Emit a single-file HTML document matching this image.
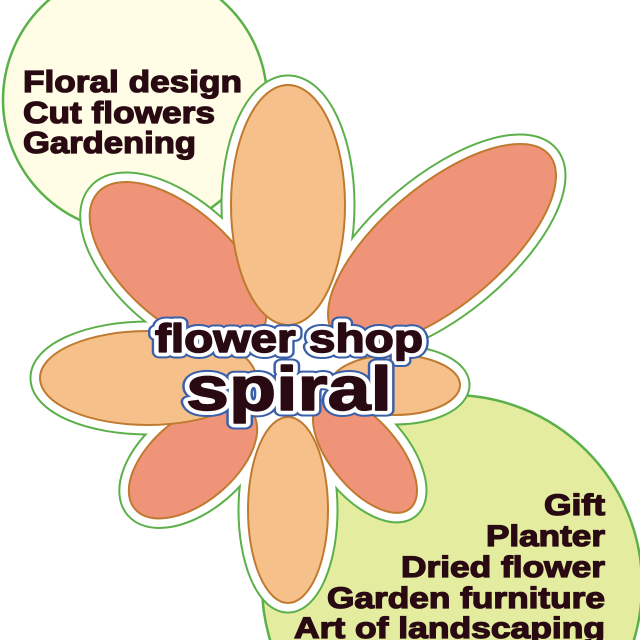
<!DOCTYPE html>
<html><head><meta charset="utf-8"><style>
html,body{margin:0;padding:0;background:#fff;overflow:hidden;}
svg{display:block;}
text{font-family:"Liberation Sans",Arial,sans-serif;font-weight:bold;fill:#2a0a12;}
</style></head><body>
<svg width="640" height="640" viewBox="0 0 640 640" xmlns="http://www.w3.org/2000/svg">
<circle cx="135" cy="100" r="132" fill="#fffde6" stroke="#5cb04a" stroke-width="2.5"/>
<circle cx="452" cy="585" r="190" fill="#e4eca0" stroke="#5cb04a" stroke-width="2.5"/>
<g fill="#fff" stroke="#5cb04a" stroke-width="21">
<ellipse cx="288" cy="205" rx="57" ry="120"/>
<ellipse cx="288" cy="510" rx="40" ry="93"/>
<ellipse cx="148" cy="378" rx="108" ry="47"/>
<ellipse cx="395" cy="385" rx="65" ry="30"/>
<ellipse cx="178" cy="265" rx="108" ry="55" transform="rotate(42 178 265)"/>
<ellipse cx="442" cy="245" rx="140" ry="60" transform="rotate(-40 442 245)"/>
<ellipse cx="193" cy="460" rx="76" ry="42" transform="rotate(-40 193 460)"/>
<ellipse cx="365" cy="455" rx="70" ry="34" transform="rotate(50 365 455)"/>
</g>
<g fill="#fff" stroke="#fff" stroke-width="17">
<ellipse cx="288" cy="205" rx="57" ry="120"/>
<ellipse cx="288" cy="510" rx="40" ry="93"/>
<ellipse cx="148" cy="378" rx="108" ry="47"/>
<ellipse cx="395" cy="385" rx="65" ry="30"/>
<ellipse cx="178" cy="265" rx="108" ry="55" transform="rotate(42 178 265)"/>
<ellipse cx="442" cy="245" rx="140" ry="60" transform="rotate(-40 442 245)"/>
<ellipse cx="193" cy="460" rx="76" ry="42" transform="rotate(-40 193 460)"/>
<ellipse cx="365" cy="455" rx="70" ry="34" transform="rotate(50 365 455)"/>
<rect x="235" y="315" width="110" height="105"/>
</g>
<g stroke="#c07a30" stroke-width="2">
<ellipse cx="178" cy="265" rx="108" ry="55" transform="rotate(42 178 265)" fill="#ef9478"/>
<ellipse cx="442" cy="245" rx="140" ry="60" transform="rotate(-40 442 245)" fill="#ef9478"/>
<ellipse cx="193" cy="460" rx="76" ry="42" transform="rotate(-40 193 460)" fill="#ef9478"/>
<ellipse cx="365" cy="455" rx="70" ry="34" transform="rotate(50 365 455)" fill="#ef9478"/>
<ellipse cx="288" cy="205" rx="57" ry="120" fill="#f6c08a"/>
<ellipse cx="288" cy="510" rx="40" ry="93" fill="#f6c08a"/>
<ellipse cx="148" cy="378" rx="108" ry="47" fill="#f6c08a"/>
<ellipse cx="395" cy="385" rx="65" ry="30" fill="#f6c08a"/>
</g>
<g font-size="31" stroke="#2a0a12" stroke-width="1.3" lengthAdjust="spacingAndGlyphs">
<text x="23" y="92" textLength="219" lengthAdjust="spacingAndGlyphs">Floral design</text>
<text x="23" y="123" textLength="192" lengthAdjust="spacingAndGlyphs">Cut flowers</text>
<text x="23" y="153" textLength="173" lengthAdjust="spacingAndGlyphs">Gardening</text>
</g>
<g font-size="30" stroke="#2a0a12" stroke-width="1.3">
<text x="544" y="515" textLength="61" lengthAdjust="spacingAndGlyphs">Gift</text>
<text x="486" y="546" textLength="119" lengthAdjust="spacingAndGlyphs">Planter</text>
<text x="401" y="577" textLength="204" lengthAdjust="spacingAndGlyphs">Dried flower</text>
<text x="327" y="608" textLength="278" lengthAdjust="spacingAndGlyphs">Garden furniture</text>
<text x="294" y="638" textLength="311" lengthAdjust="spacingAndGlyphs">Art of landscaping</text>
</g>
<g stroke-linejoin="round">
<text x="155" y="352" font-size="40" textLength="268" lengthAdjust="spacingAndGlyphs" stroke="#3a5fa8" stroke-width="13">flower shop</text>
<text x="155" y="352" font-size="40" textLength="268" lengthAdjust="spacingAndGlyphs" stroke="#fff" stroke-width="9">flower shop</text>
<text x="155" y="352" font-size="40" textLength="268" lengthAdjust="spacingAndGlyphs" stroke="#2a0a12" stroke-width="1.5">flower shop</text>
<text x="186" y="410" font-size="62" textLength="206" lengthAdjust="spacingAndGlyphs" stroke="#3a5fa8" stroke-width="13">spiral</text>
<text x="186" y="410" font-size="62" textLength="206" lengthAdjust="spacingAndGlyphs" stroke="#fff" stroke-width="9">spiral</text>
<text x="186" y="410" font-size="62" textLength="206" lengthAdjust="spacingAndGlyphs" stroke="#2a0a12" stroke-width="1.5">spiral</text>
</g>
</svg>
</body></html>
